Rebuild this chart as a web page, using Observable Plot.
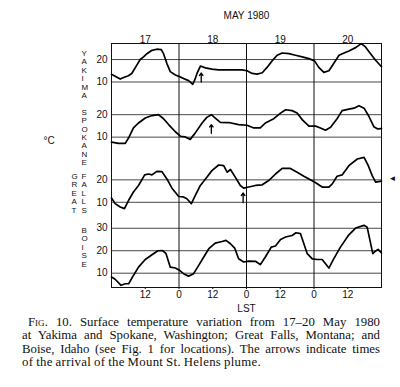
<!DOCTYPE html>
<html><head><meta charset="utf-8">
<script src="https://cdn.jsdelivr.net/npm/d3@7"></script>
<script src="https://cdn.jsdelivr.net/npm/@observablehq/plot@0.6"></script>
<style>
body{margin:0;background:#fff;}
#chart svg{display:block;}
.cap{font-family:"Liberation Serif","Times New Roman",serif;font-size:12.8px;line-height:13.4px;word-spacing:-0.6px;color:#111;margin-left:22px;width:358px;margin-top:0px;}
.cap div{text-align:justify;text-align-last:justify;white-space:nowrap;}
.cap div.last{text-align-last:left;letter-spacing:0.3px;}
.sc{font-variant:small-caps;}
</style></head><body>
<div id="chart"></div>
<div class="cap">
<div style="text-indent:6px"><span class="sc">Fig</span>. 10. Surface temperature variation from 17–20 May 1980</div>
<div>at Yakima and Spokane, Washington; Great Falls, Montana; and</div>
<div>Boise, Idaho (see Fig. 1 for locations). The arrows indicate times</div>
<div class="last">of the arrival of the Mount St. Helens plume.</div>
</div>
<script>
// hours from 00 LST 17 May, temperature °C
const yakima = [[0,13.4],[1.3,12.6],[3.1,11.3],[4.3,12.0],[6,12.8],[7.2,13.8],[9,17.5],[10.2,20],[11.4,21.2],[12.6,22.6],[14.4,24.1],[16.1,24.6],[17.7,24.4],[18.5,22.6],[19.7,18.2],[20.9,14.6],[22.7,13.1],[24.2,12.4],[25.6,11.6],[27.4,10.6],[28.9,9.0],[29.6,10.9],[30.4,13.8],[31.6,17.1],[33.4,16.3],[35.7,15.7],[38.1,15.4],[41.7,15.4],[46.4,15.4],[48.2,15.0],[50,13.8],[51.8,13.5],[53.6,14.1],[55.3,16.5],[57.1,19.4],[58.9,21.9],[60.7,22.9],[63.1,22.6],[65.4,21.9],[67.8,21.2],[70.2,20.4],[72.2,19.4],[73.7,16.5],[75.5,14.3],[77.3,15.0],[79,18.2],[80.9,21.9],[82.7,22.9],[84.4,23.8],[86.8,25.3],[88.8,27.1],[90.3,25.6],[92.1,22.6],[93.9,19.7],[96,16.8]];
const spokane = [[0,7.8],[2.5,7.2],[4.9,7.2],[6.1,9.7],[7.8,14.1],[9.6,16.3],[12,18.5],[14.4,19.6],[16.7,20],[18.5,18.2],[20.3,15.6],[22.7,12.4],[24.5,10.4],[26.2,10.1],[28,9.0],[29.8,11.9],[32.2,16.3],[33.9,18.8],[35.5,20],[36.9,18.5],[38.7,16.6],[41.7,16.5],[45.2,15.6],[48.2,15.3],[50.6,14.1],[52.9,14.1],[54.7,16.3],[57.7,18.2],[60.1,20.7],[61.9,22.2],[64.2,21.8],[66,20.7],[67.8,17.8],[70.2,14.9],[72.6,14.9],[74.3,14.1],[76.1,13.1],[77.9,14.4],[80.2,18.2],[82,21.8],[84.4,22.5],[86.2,22.9],[88,24.0],[89.8,22.9],[91.5,19.3],[93.3,14.6],[94.5,13.7],[96,13.8]];
const greatFalls = [[0,11.9],[1.3,9.4],[3.1,7.9],[4.6,7.2],[6.1,10.9],[7.8,14.6],[9.6,17.5],[11.8,22.2],[13.2,22.6],[14.4,22.2],[16.1,23.8],[17.9,23.7],[19.7,20.4],[21.5,16.3],[23.9,12.6],[25.6,12.4],[26.8,11.6],[28.4,9.4],[29.8,13.1],[31.6,17.5],[33.9,21.2],[35.7,24.1],[38.1,26.6],[39.9,26.3],[41.1,23.4],[42.3,24.6],[44,21.2],[45.8,17.5],[47,16.3],[48.8,16.8],[51.2,17.5],[53.6,17.8],[55.9,19.7],[58.3,22.6],[60.7,25.1],[63.6,25.1],[66,23.4],[68.4,21.6],[70.2,20.4],[72.6,18.7],[74.9,16.8],[77.3,16.8],[78.5,18.2],[80.2,21.6],[82,22.2],[84.4,26.3],[87.4,29.3],[89.8,30.0],[91.3,26.3],[92.7,21.9],[93.9,19.0],[96,19.4]];
const boise = [[0,8.3],[1.3,7.3],[3.4,4.6],[4.9,5.3],[6.1,5.3],[7.8,9.0],[9.6,12.7],[12,16.1],[14.4,18.2],[16.5,20.0],[18.2,20.1],[19.4,18.7],[20.9,12.7],[22.7,12.3],[24.2,11.3],[25.6,9.8],[27.4,8.7],[29.2,9.8],[31,13.5],[32.8,17.2],[34.6,20.9],[36.9,23.4],[39.3,24.1],[40.7,24.6],[42.3,23.1],[43.8,21.2],[45.2,16.4],[47,15.0],[48.8,15.4],[51.2,15.3],[52.9,13.8],[54.7,17.2],[56.8,21.6],[58.3,22.1],[60.1,25.0],[61.9,26.1],[64.2,26.8],[65.6,28.0],[67.2,27.6],[68.4,23.1],[69.6,18.7],[71.4,16.4],[73.1,16.1],[74.9,16.1],[77.3,12.3],[79,16.4],[81.4,21.6],[84.4,27.1],[86.8,30.1],[89.8,31.3],[90.9,30.5],[91.9,24.6],[92.9,18.7],[93.9,19.9],[94.8,20.6],[96,19.0]];

const stations = ["YAKIMA","SPOKANE","GREAT FALLS","BOISE"];
const gridTemps = [[10,20],[10,20],[10,20],[10,20,30]];
const days = ["17","18","19","20"];
const hourTicks = [12,24,36,48,60,72,84];
// plume arrival: station index, hour, arrow from/to (°C)
const plume = [[0,31.9,10,14],[1,35.5,11.7,15.6],[2,46.8,9.9,14.2]];

// layout: vertical offset of each panel (°C units)
const offsets = [0,-24.55,-53.57,-85.13];
const nameAt = [13.4,9.9,14.1,21.6];

const series = [yakima, spokane, greatFalls, boise];
const rows = series.flatMap((s,i)=>s.map(([h,t])=>({station:stations[i], h, t, y:t+offsets[i]})));
const gridRows = gridTemps.flatMap((g,i)=>g.map(v=>({v, y:v+offsets[i]})));
const tickLabel = new Map(gridRows.map(d=>[d.y.toFixed(2), String(d.v)]));
const arrowRows = plume.map(([s,h,a,b])=>({h, y1:a+offsets[s], y2:b+offsets[s]}));
const stack = s => s.split("").join("\n");
const nameRows = [
  {t:"YAKIMA", y:nameAt[0]+offsets[0]},
  {t:"SPOKANE", y:nameAt[1]+offsets[1]},
  {t:"FALLS", y:nameAt[2]+offsets[2]},
  {t:"BOISE", y:nameAt[3]+offsets[3]}
];
const greatRow = [{t:"GREAT", y:nameAt[2]+offsets[2]}];

const chart = Plot.plot({
  width:400, height:316,
  marginLeft:111, marginRight:19, marginTop:43, marginBottom:29,
  style:{fontFamily:"'Liberation Sans', Arial, sans-serif", fontSize:"10px", color:"#111", background:"#fff"},
  x:{domain:[0,96]},
  y:{domain:[-81.5,27.14]},
  marks:[
    Plot.ruleY(gridRows,{y:"y", stroke:"#333", strokeWidth:0.9}),
    Plot.ruleX([24,48,72],{stroke:"#111", strokeWidth:1}),
    Plot.frame({stroke:"#111", strokeWidth:1}),
    Plot.line(rows,{x:"h", y:"y", z:"station", stroke:"#000", strokeWidth:1.7, strokeLinejoin:"round"}),
    Plot.arrow(arrowRows,{x1:"h", x2:"h", y1:"y1", y2:"y2", headLength:4, headAngle:70, stroke:"#000", strokeWidth:1.3}),
    Plot.axisY(gridRows.map(d=>d.y),{anchor:"left", tickSize:0, tickPadding:4, label:null, tickFormat:d=>tickLabel.get(d.toFixed(2))}),
    Plot.axisX({anchor:"top", ticks:[12,36,60,84], tickSize:0, tickPadding:1, label:null, tickFormat:d=>days[Math.floor(d/24)]}),
    Plot.axisX({anchor:"bottom", ticks:hourTicks, tickSize:2, tickPadding:1, label:null, tickFormat:d=>String(d%24)}),
    Plot.text(["MAY 1980"],{frameAnchor:"top", dy:-32, fontSize:10}),
    Plot.text(["LST"],{frameAnchor:"bottom", dy:24, fontSize:10}),
    Plot.text(nameRows,{y:"y", text:d=>stack(d.t), frameAnchor:"left", dx:-30, fontSize:8, lineHeight:1.05, lineAnchor:"middle"}),
    Plot.text(greatRow,{y:"y", text:d=>stack(d.t), frameAnchor:"left", dx:-40, fontSize:8, lineHeight:1.05, lineAnchor:"middle"}),
    Plot.text([{t:"°C", y:-16}],{y:"y", text:"t", frameAnchor:"left", dx:-68, fontSize:10}),
    Plot.text([{t:"◄", y:-33}],{y:"y", text:"t", frameAnchor:"right", dx:15, fontSize:8})
  ]
});
document.getElementById("chart").appendChild(chart);
</script>
</body></html>
